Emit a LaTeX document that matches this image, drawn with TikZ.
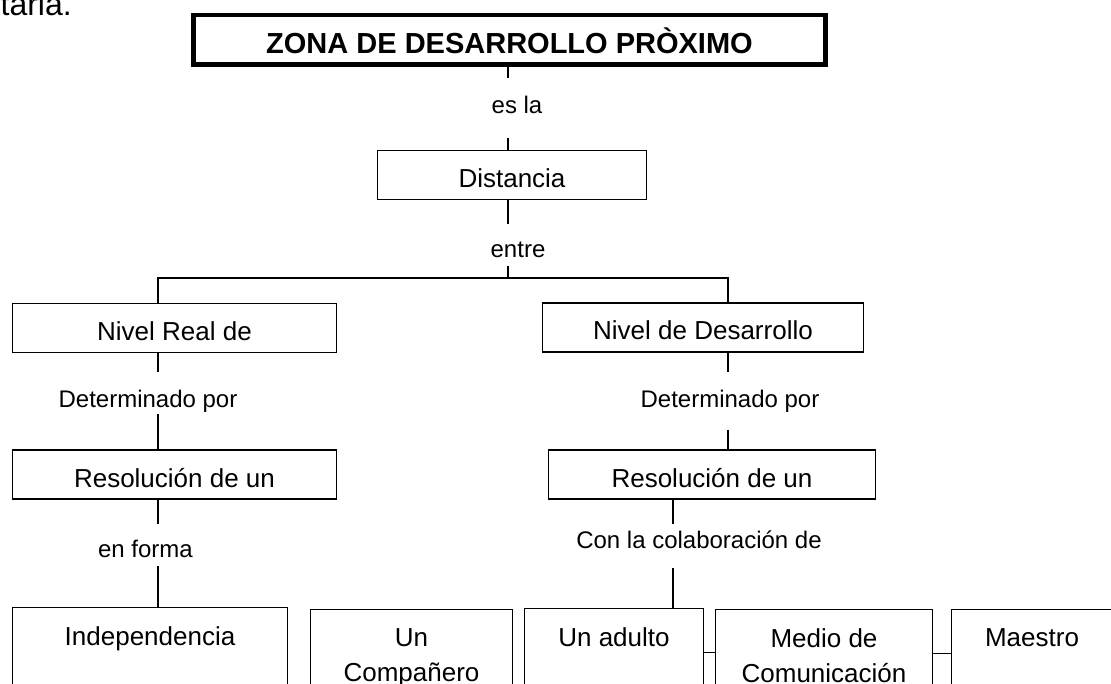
\documentclass[tikz,border=0pt]{standalone}
\usepackage{fontspec}
\setmainfont{Liberation Sans}
\usetikzlibrary{positioning}

\begin{document}
\begin{tikzpicture}[
  x=1pt, y=-1pt,
  line width=1.3pt,
  every node/.style={inner sep=0pt},
  title/.style={draw, line width=4.5pt, minimum width=632pt, minimum height=49.5pt, text height=28pt, text depth=0pt, font=\fontsize{29}{34}\selectfont\bfseries},
  box/.style={draw, minimum height=49pt, text height=25pt, text depth=0pt, font=\fontsize{26}{30}\selectfont},
  lnk/.style={anchor=base, text height=17pt, text depth=5pt, font=\fontsize{24}{28}\selectfont},
  low/.style={draw, anchor=north, minimum height=88pt},
  txt/.style={anchor=north, yshift=-19pt, align=center, font=\fontsize{26}{35}\selectfont}
]
  \fill[white] (0,0) rectangle (1111,684);
  \useasboundingbox (0,0) rectangle (1111,684);

  \node[anchor=base west, font=\fontsize{32}{36}\selectfont] (prev) at (0,15.5) {taria.};

  \node[title] (zona) at (509.5,40) {ZONA DE DESARROLLO PRÒXIMO};
  \node[box, minimum width=269pt] (dist) at (512,175) {Distancia};
  \node[box, minimum width=324pt] (nivr) at (174.5,328) {Nivel Real de};
  \node[box, minimum width=321pt] (nivd) at (703,327.5) {Nivel de Desarrollo};
  \node[box, minimum width=324pt] (resl) at (174.5,474.5) {Resolución de un};
  \node[box, minimum width=327pt] (resr) at (712,474.5) {Resolución de un};

  \node[lnk] (esla) at (517,113.6) {es la};
  \node[lnk] (entre) at (518,258) {entre};
  \node[lnk] (detl) at (148,407) {Determinado por};
  \node[lnk] (detr) at (730,407) {Determinado por};
  \node[lnk] (enf) at (145.5,557.5) {en forma};
  \node[lnk] (conl) at (699,548.5) {Con la colaboración de};

  \node[low, minimum width=275pt, label={[txt]north:Independencia}] (indep) at (150,607) {};
  \node[low, minimum width=202pt, label={[txt]north:Un\\Compañero}] (comp) at (411.5,609) {};
  \node[low, minimum width=179pt, label={[txt]north:Un adulto}] (adul) at (614,608) {};
  \node[low, minimum width=217pt, label={[txt]north:Medio de\\Comunicación}] (medio) at (824,609) {};
  \node[low, minimum width=161pt, label={[txt]north:Maestro}] (maes) at (1032,609) {};

  \coordinate (tc) at (508,0);
  \coordinate (tl) at (158,0);
  \coordinate (tr) at (728,0);
  \coordinate (tb) at (673,0);
  \coordinate (bar) at (0,278);

  \foreach \a/\b/\c/\sa/\sb in {zona/esla/tc/0/17.6, esla/dist/tc/18.4/0, dist/entre/tc/0/16,
      nivr/detl/tl/0/17, detl/resl/tl/1/0, resl/enf/tl/0/15.5, enf/indep/tl/2.5/0,
      nivd/detr/tr/0/17, detr/resr/tr/17/0, resr/conl/tb/0/6.5, conl/adul/tb/13.5/0}
    \draw[shorten <=\sa pt, shorten >=\sb pt] (\a.south -| \c) -- (\b.north -| \c);

  \draw[shorten <=2pt] (entre.south -| tc) -- (bar -| tc);
  \draw (nivr.north -| tl) -- (bar -| tl) -- (bar -| tr) -- (nivd.north -| tr);

  \draw (adul.east) -- (adul.east -| medio.west);
  \draw (medio.east) -- (medio.east -| maes.west);
\end{tikzpicture}
\end{document}
